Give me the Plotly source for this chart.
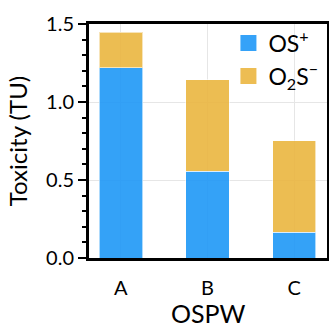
import plotly.graph_objects as go

categories = ["A", "B", "C"]
os_plus = [1.22, 0.556, 0.165]
o2s_minus = [0.228, 0.586, 0.588]
series_names = ["OS<sup>+</sup>", "O<sub>2</sub>S<sup>−</sup>"]
colors = ["rgb(31,152,247)", "rgb(235,182,64)"]
x_title = "OSPW"
y_title = "Toxicity (TU)"

fig = go.Figure()
for vals, name, col in zip([os_plus, o2s_minus], series_names, colors):
    fig.add_trace(go.Bar(x=categories, y=vals, name=name, showlegend=False,
                         marker=dict(color=col, opacity=0.9,
                                     line=dict(color="rgba(255,255,255,0.6)", width=1)),
                         width=0.5))
for name, col in zip(series_names, colors):
    fig.add_trace(go.Scatter(x=[None], y=[None], mode="markers", name=name,
                             marker=dict(symbol="square", size=16, color=col, opacity=0.9)))

fig.add_annotation(text=x_title, xref="paper", yref="paper", x=0.5, y=0,
                   xanchor="center", yanchor="middle", yshift=-55, showarrow=False,
                   font=dict(size=25))

fig.update_layout(
    barmode="stack",
    width=329, height=324,
    margin=dict(l=89, r=2, t=24, b=66),
    paper_bgcolor="white", plot_bgcolor="white",
    font=dict(family="Lato", size=20, color="black"),
    showlegend=True,
    legend=dict(x=0.985, y=1.01, xanchor="right", yanchor="top", bgcolor="rgba(0,0,0,0)",
                font=dict(size=23), itemwidth=30, tracegroupgap=0, traceorder="normal"),
)
fig.update_xaxes(
    range=[-0.368, 2.379], automargin=False,
    showline=True, linewidth=3, linecolor="black", mirror=True,
    showgrid=True, gridcolor="rgb(230,230,230)", gridwidth=1,
    ticks="", ticklabelstandoff=10,
)
fig.update_yaxes(
    title=dict(text=y_title, font=dict(size=24), standoff=12),
    range=[0, 1.5], tickvals=[0, 0.5, 1.0, 1.5], ticktext=["0.0", "0.5", "1.0", "1.5"],
    automargin=False,
    showline=True, linewidth=3, linecolor="black", mirror=True,
    showgrid=True, gridcolor="rgb(230,230,230)", gridwidth=1,
    ticks="outside", ticklen=8, tickwidth=2, tickcolor="black",
    minor=dict(dtick=0.1, ticks="outside", ticklen=4, tickwidth=2, tickcolor="black", showgrid=False),
    zeroline=False,
)

fig.write_html("out.html", config={"displayModeBar": False},
               post_script="document.body.style.margin='0';document.body.style.overflow='hidden';")
